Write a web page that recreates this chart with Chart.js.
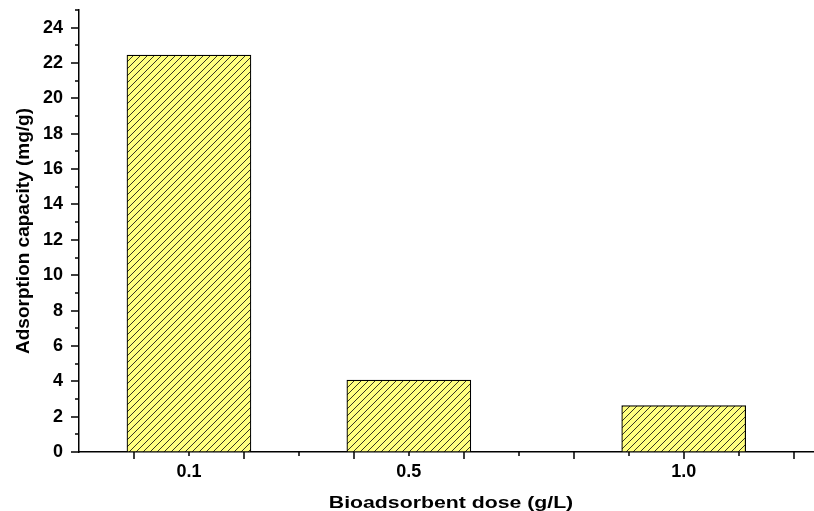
<!DOCTYPE html>
<html>
<head>
<meta charset="utf-8">
<script src="https://cdn.jsdelivr.net/npm/chart.js@4.4.1/dist/chart.umd.min.js"></script>
<style>
html,body{margin:0;padding:0;background:#fff;}
#wrap{width:814px;height:511px;}
</style>
</head>
<body>
<div id="wrap"><canvas id="c" width="814" height="511"></canvas></div>
<script>
const doses = [0.1, 0.5, 1.0];
const doseLabels = ['0.1', '0.5', '1.0'];
const capacity = [22.45, 4.07, 2.62];
const yTicks = [0, 2, 4, 6, 8, 10, 12, 14, 16, 18, 20, 22, 24];
const yMinor = [1, 3, 5, 7, 9, 11, 13, 15, 17, 19, 21, 23, 25];
const xMajor = [0, 0.2, 0.4, 0.6, 0.8, 1.0, 1.2];
const xMinor = [0.1, 0.3, 0.5, 0.7, 0.9, 1.1];
const xTitle = 'Bioadsorbent dose (g/L)';
const yTitle = 'Adsorption capacity (mg/g)';

function hatch() {
  const s = 7;
  const c = document.createElement('canvas');
  c.width = s; c.height = s;
  const g = c.getContext('2d');
  g.fillStyle = '#ffff80';
  g.fillRect(0, 0, s, s);
  g.strokeStyle = '#111';
  g.lineWidth = 0.85;
  g.beginPath();
  g.moveTo(-1, s + 1); g.lineTo(s + 1, -1);
  g.moveTo(-1, 1); g.lineTo(1, -1);
  g.moveTo(s - 1, s + 1); g.lineTo(s + 1, s - 1);
  g.stroke();
  return g.createPattern(c, 'repeat');
}

const FAM = '"Liberation Sans", Arial, sans-serif';

const deco = {
  id: 'deco',
  afterDraw(chart) {
    const ctx = chart.ctx, x = chart.scales.x, y = chart.scales.y;
    const a = chart.chartArea;
    ctx.save();
    ctx.strokeStyle = '#000';
    ctx.lineWidth = 1.5;
    ctx.beginPath();
    yTicks.forEach(v => { const p = Math.round(y.getPixelForValue(v)); ctx.moveTo(a.left - 8, p); ctx.lineTo(a.left, p); });
    yMinor.forEach(v => { const p = Math.round(y.getPixelForValue(v)); ctx.moveTo(a.left - 4, p); ctx.lineTo(a.left, p); });
    xMajor.forEach(v => { const p = Math.round(x.getPixelForValue(v)); ctx.moveTo(p, a.bottom); ctx.lineTo(p, a.bottom + 7); });
    xMinor.forEach(v => { const p = Math.round(x.getPixelForValue(v)); ctx.moveTo(p, a.bottom); ctx.lineTo(p, a.bottom + 4); });
    ctx.stroke();
    ctx.restore();

    ctx.save();
    ctx.fillStyle = '#000';
    ctx.textAlign = 'center';
    ctx.textBaseline = 'alphabetic';
    ctx.font = 'bold 17px ' + FAM;
    ctx.translate(451, 508);
    ctx.scale(1.25, 1);
    ctx.fillText(xTitle, 0, 0);
    ctx.restore();

    ctx.save();
    ctx.fillStyle = '#000';
    ctx.textAlign = 'center';
    ctx.textBaseline = 'alphabetic';
    ctx.font = 'bold 19px ' + FAM;
    ctx.translate(29, (a.top + a.bottom) / 2);
    ctx.rotate(-Math.PI / 2);
    ctx.fillText(yTitle, 0, 0);
    ctx.restore();
  }
};

const tickFont = { family: FAM, weight: 'bold', size: 18 };

new Chart(document.getElementById('c'), {
  type: 'bar',
  data: {
    datasets: [{
      data: doses.map((d, i) => ({ x: d, y: capacity[i] })),
      backgroundColor: hatch(),
      borderColor: '#000',
      borderWidth: 1.2,
      borderSkipped: false,
      barThickness: 124
    }]
  },
  options: {
    responsive: false,
    animation: false,
    layout: { padding: { top: 10, right: 0, left: 0, bottom: 0 } },
    plugins: { legend: { display: false }, tooltip: { enabled: false } },
    scales: {
      x: {
        type: 'linear',
        offset: false,
        min: -0.1,
        max: 1.237,
        grid: { display: false },
        border: { display: true, color: '#000', width: 1.5 },
        afterBuildTicks: s => { s.ticks = doses.map(v => ({ value: v })); },
        afterFit: s => { s.height = 59; s.paddingLeft = 0; s.paddingRight = 0; },
        ticks: {
          color: '#000', font: tickFont, padding: 1, maxRotation: 0, autoSkip: false,
          callback: (v) => { const i = doses.indexOf(v); return i >= 0 ? doseLabels[i] : ''; }
        },
        title: { display: false }
      },
      y: {
        min: 0,
        max: 25,
        grid: { display: false },
        border: { display: true, color: '#000', width: 1.5 },
        afterBuildTicks: s => { s.ticks = yTicks.map(v => ({ value: v })); },
        afterFit: s => { s.width = 79; s.paddingTop = 0; s.paddingBottom = 0; },
        ticks: { color: '#000', font: tickFont, padding: 8 },
        title: { display: false }
      }
    }
  },
  plugins: [deco]
});
</script>
</body>
</html>
